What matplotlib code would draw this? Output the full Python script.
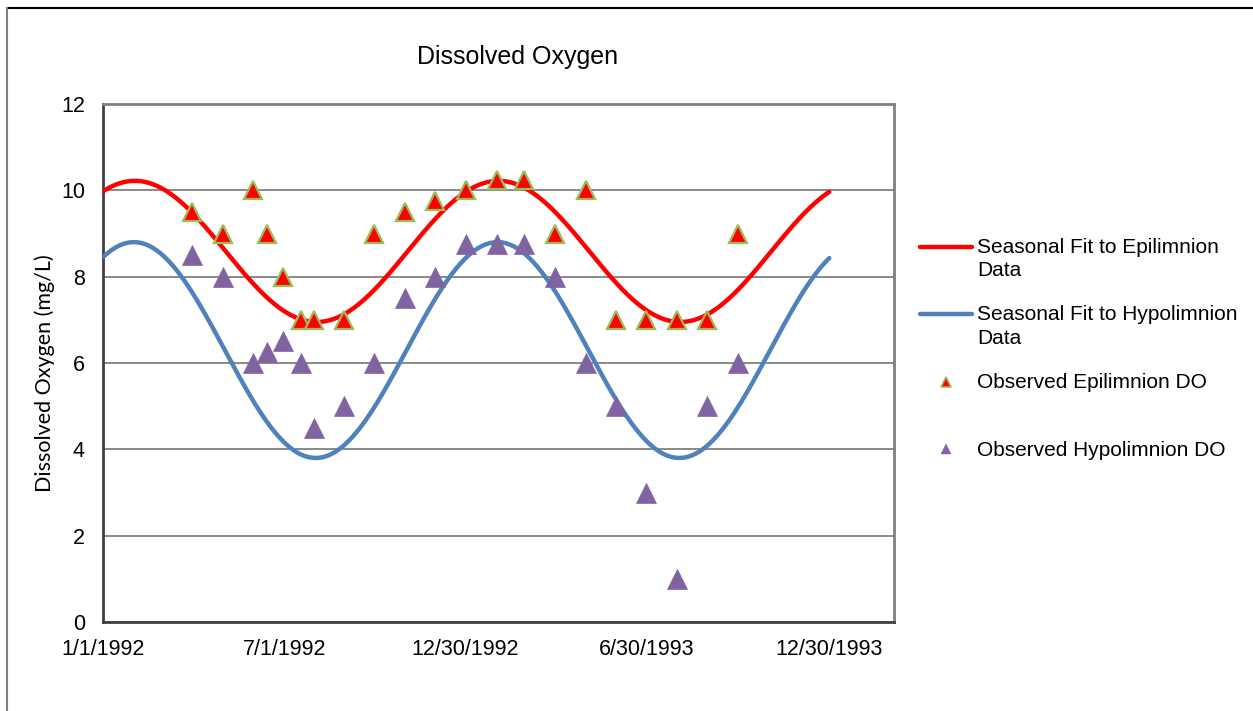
import numpy as np
import pandas as pd
import matplotlib
matplotlib.use("Agg")
import matplotlib.pyplot as plt
from matplotlib.lines import Line2D
from matplotlib.legend_handler import HandlerLine2D

# ---------------- data ----------------
obs_dates = ["1992-03-30", "1992-04-30", "1992-05-31", "1992-06-14", "1992-06-30",
             "1992-07-18", "1992-07-31", "1992-08-30", "1992-09-29", "1992-10-30",
             "1992-11-29", "1992-12-30", "1993-01-30", "1993-02-27", "1993-03-30",
             "1993-04-30", "1993-05-30", "1993-06-29", "1993-07-30", "1993-08-29",
             "1993-09-29"]
epi_do = [9.5, 9.0, 10.0, 9.0, 8.0, 7.0, 7.0, 7.0, 9.0, 9.5,
          9.75, 10.0, 10.25, 10.25, 9.0, 10.0, 7.0, 7.0, 7.0, 7.0, 9.0]
hypo_do = [8.5, 8.0, 6.0, 6.25, 6.5, 6.0, 4.5, 5.0, 6.0, 7.5,
           8.0, 8.75, 8.75, 8.75, 8.0, 6.0, 5.0, 3.0, 1.0, 5.0, 6.0]

# seasonal (annual sinusoid) fit parameters: mean, amplitude, day-of-year of peak
fit_start = "1992-01-01"
fit_end = "1993-12-30"
epi_fit = dict(mean=8.585, amp=1.635, peak_day=32)
hypo_fit = dict(mean=6.30, amp=2.50, peak_day=31)

x_ticks = ["1992-01-01", "1992-07-01", "1992-12-30", "1993-06-30", "1993-12-30"]
x_tick_labels = ["1/1/1992", "7/1/1992", "12/30/1992", "6/30/1993", "12/30/1993"]
x_limits = ["1992-01-01", "1994-03-05"]
y_ticks = [0, 2, 4, 6, 8, 10, 12]

labels = ["Seasonal Fit to Epilimnion\nData",
          "Seasonal Fit to Hypolimnion\nData",
          "Observed Epilimnion DO\n ",
          "Observed Hypolimnion DO\n "]

# ---------------- derived ----------------
obs_t = pd.to_datetime(obs_dates)
fit_t = pd.date_range(fit_start, fit_end, freq="D")
days = (fit_t - pd.Timestamp(fit_start)).days.values


def seasonal(p):
    return p["mean"] + p["amp"] * np.cos(2 * np.pi * (days - p["peak_day"]) / 365.0)


plt.rcParams["font.family"] = ["Liberation Sans", "DejaVu Sans"]

W, H = 1253, 711
fig = plt.figure(figsize=(W / 100, H / 100), dpi=100)
ax = fig.add_axes([103 / W, 1 - 622 / H, (894 - 103) / W, (622 - 104) / H])

RED = "#FF0000"
BLUE = "#4F81BD"
GREEN = "#9BBB59"
PURPLE = "#8064A2"

ax.plot(fit_t, seasonal(epi_fit), color=RED, lw=3.2, solid_capstyle="round", zorder=3)
ax.plot(fit_t, seasonal(hypo_fit), color=BLUE, lw=3.2, solid_capstyle="round", zorder=3)
ax.plot(obs_t, epi_do, linestyle="none", marker="^", ms=13.5, mfc=RED, mec=GREEN,
        mew=1.6, zorder=4)
ax.plot(obs_t, hypo_do, linestyle="none", marker="^", ms=14.5, mfc=PURPLE, mec=PURPLE,
        mew=0.5, zorder=4)

ax.set_xlim(pd.to_datetime(x_limits[0]), pd.to_datetime(x_limits[1]))
ax.set_ylim(0, 12)
ax.set_xticks(pd.to_datetime(x_ticks))
ax.set_xticklabels(x_tick_labels)
ax.set_yticks(y_ticks)
ax.tick_params(axis="both", length=0, labelsize=15.5, colors="black")
ax.tick_params(axis="x", pad=12)
ax.tick_params(axis="y", pad=13)
ax.yaxis.grid(True, color="#808080", lw=1.3)
ax.set_axisbelow(True)
for side in ["left", "bottom"]:
    ax.spines[side].set_color("#404040")
    ax.spines[side].set_linewidth(2.0)
for side in ["top", "right"]:
    ax.spines[side].set_color("#808080")
    ax.spines[side].set_linewidth(2.0)

fig.text(518 / W, 1 - 57 / H, "Dissolved Oxygen", ha="center", va="center", fontsize=18)
fig.text(45 / W, 1 - 373 / H, "Dissolved Oxygen (mg/L)", rotation=90, ha="center",
         va="center", fontsize=15.5, family=["Lato", "DejaVu Sans"])


# legend: handles aligned with the first line of each label
class HandlerFirstLine(HandlerLine2D):
    def __init__(self, offset, **kw):
        super().__init__(**kw)
        self.offset = offset

    def create_artists(self, legend, orig_handle, xdescent, ydescent, width, height,
                       fontsize, trans):
        arts = super().create_artists(legend, orig_handle, xdescent, ydescent, width,
                                      height, fontsize, trans)
        for a in arts:
            a.set_ydata(np.asarray(a.get_ydata()) + self.offset)
        return arts


handles = [
    Line2D([], [], color=RED, lw=3.2, solid_capstyle="round"),
    Line2D([], [], color=BLUE, lw=3.2, solid_capstyle="round"),
    Line2D([], [], linestyle="none", marker="^", ms=7, mfc=RED, mec=GREEN, mew=1.2),
    Line2D([], [], linestyle="none", marker="^", ms=7.5, mfc=PURPLE, mec=PURPLE, mew=0.3),
]
off = 9.0
leg = fig.legend(handles, labels, loc="upper left",
                 bbox_to_anchor=(920 / W, 1 - 238 / H), frameon=False,
                 fontsize=15, handlelength=2.5, handletextpad=0.25,
                 labelspacing=1.2, borderpad=0, borderaxespad=0,
                 handler_map={h: HandlerFirstLine(off) for h in handles})
for t in leg.get_texts():
    t.set_linespacing(1.3)

# outer chart border (top and left visible)
fig.add_artist(Line2D([7 / W, 1.0], [1 - 8 / H, 1 - 8 / H], transform=fig.transFigure,
                      color="black", lw=1.5))
fig.add_artist(Line2D([7 / W, 7 / W], [1 - 8 / H, 0.0], transform=fig.transFigure,
                      color="#808080", lw=1.5))

fig.savefig("out.png", dpi=100, facecolor="white")
